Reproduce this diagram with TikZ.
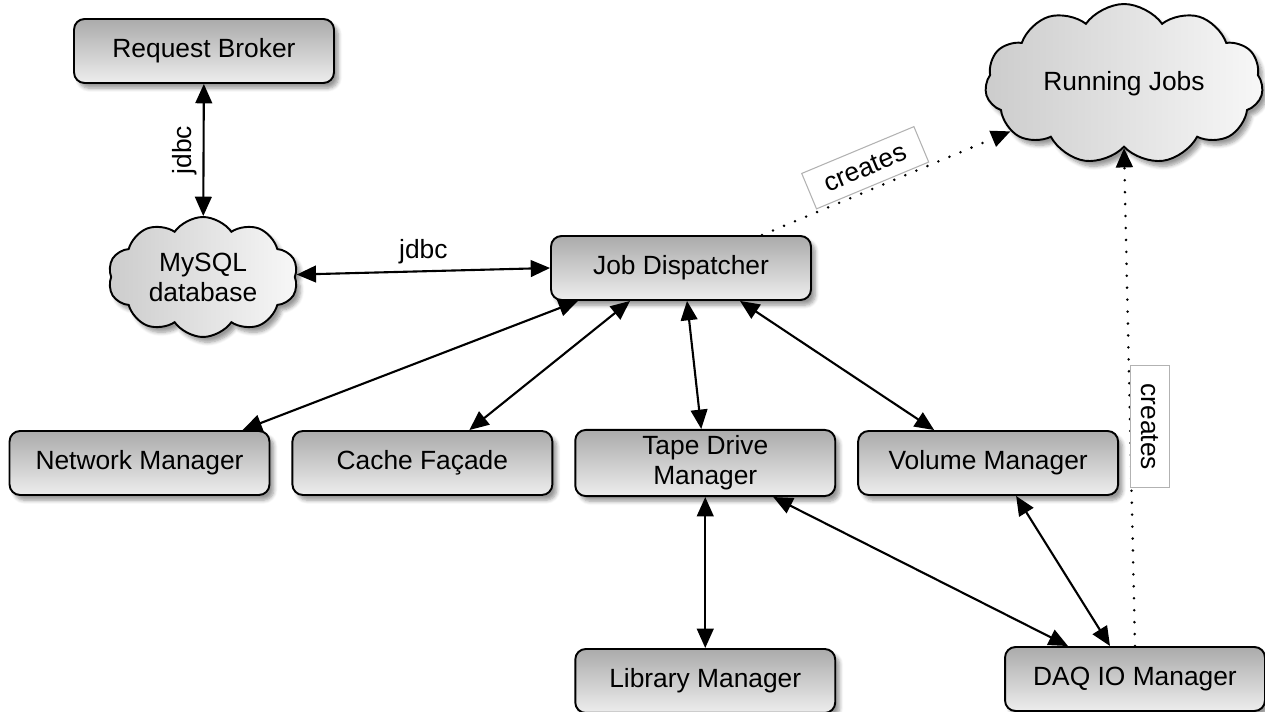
\documentclass[tikz,border=0pt]{standalone}
\usepackage{fontspec}
\setmainfont{Liberation Sans}
\usetikzlibrary{shapes,arrows.meta,shadows.blur,positioning}
\tikzstyle{block} = [rectangle, draw, line width=1.1pt, rounded corners=6pt,
    top color=black!33, bottom color=black!7, align=center,
    minimum width=5.2cm, minimum height=1.28cm, font=\fontsize{15}{17}\selectfont,
    blur shadow={shadow xshift=2.5pt, shadow yshift=-3pt, shadow blur steps=6}]
\tikzstyle{puff} = [cloud, cloud puffs=10, cloud puff arc=110, cloud ignores aspect, draw,
    line width=1.1pt, left color=black!20, right color=black!3, align=center,
    font=\fontsize{15}{17}\selectfont,
    blur shadow={shadow xshift=2.5pt, shadow yshift=-3pt, shadow blur steps=6}]
\tikzstyle{line} = [draw, line width=1.2pt,
    {Triangle[length=11pt,width=9.5pt]}-{Triangle[length=11pt,width=9.5pt]}]
\tikzstyle{spawn} = [draw, line width=1.6pt, line cap=round, dash pattern=on 0pt off 6.8pt,
    -{Triangle[length=11pt,width=9.5pt]}]
\tikzstyle{tag} = [draw=black!30, solid, line cap=butt, line width=0.6pt, fill=white,
    inner xsep=10pt, inner ysep=6pt, font=\fontsize{15}{17}\selectfont]

\begin{document}
\begin{tikzpicture}[x=0.02cm, y=-0.02cm, node distance=0.42cm]
  \useasboundingbox (0,0) rectangle (1265,712);
  \node [block] (broker) at (204,51) {Request Broker};
  \node [puff, minimum width=3.8cm, minimum height=2.4cm] (mysql) at (203,277) {MySQL\\database};
  \node [block] (dispatcher) at (681,268) {Job Dispatcher};
  \node [puff, cloud puffs=11, minimum width=5.56cm, minimum height=3.2cm] (jobs) at (1124,84) {Running Jobs};
  \node [block] (network) at (139.5,463) {Network Manager};
  \node [block, right=of network] (cache) {Cache Façade};
  \node [block, right=of cache] (tape) {Tape Drive\\Manager};
  \node [block, right=of tape] (volume) {Volume Manager};
  \node [block, below=3.02cm of tape] (library) {Library Manager};
  \node [block] (daq) at (1135,679) {DAQ IO Manager};
  \path [line] (broker) -- node[rotate=90, above, font=\fontsize{15}{17}\selectfont] {jdbc} (mysql);
  \path [line] (mysql) -- node[above, font=\fontsize{15}{17}\selectfont] {jdbc} (dispatcher.west);
  \path [line] ([xshift=-2.06cm]dispatcher.south) -- ([xshift=2.06cm]network.north);
  \path [line] ([xshift=-1.02cm]dispatcher.south) -- ([xshift=0.94cm]cache.north);
  \path [line] ([xshift=0.12cm]dispatcher.south) -- ([xshift=-0.08cm]tape.north);
  \path [line] ([xshift=1.18cm]dispatcher.south) -- ([xshift=-1.08cm]volume.north);
  \path [line] (tape.south) -- (library.north);
  \path [line] ([xshift=1.36cm]tape.south) -- ([xshift=-1.34cm]daq.north);
  \path [line] ([xshift=0.56cm]volume.south) -- ([xshift=-0.5cm]daq.north);
  \path [spawn] ([xshift=1.62cm]dispatcher.north) -- node[tag, sloped, above=1.5pt, pos=0.45] {creates} (jobs);
  \path [spawn] (daq.north) -- node[tag, rotate=-90, above=3pt, pos=0.43] {creates} (jobs.south);
\end{tikzpicture}
\end{document}
